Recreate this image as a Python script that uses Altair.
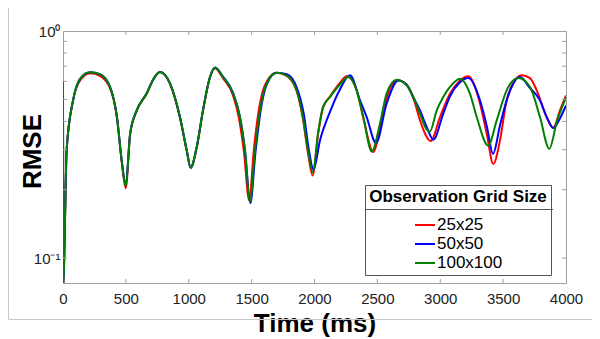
import altair as alt
import pandas as pd

SIZES = ["25x25", "50x50", "100x100"]
COLORS = ["#ff0000", "#0000ff", "#008000"]

T_RED = [0, 3, 16, 29, 80, 140, 215, 294, 374, 429, 467, 499, 534, 586, 666, 720, 771, 851, 930, 984, 1015,
         1063, 1113, 1169, 1209, 1272, 1352, 1400, 1440, 1480, 1520, 1560, 1620, 1699, 1779, 1858, 1908, 1948,
         1985, 2028, 2068, 2123, 2200, 2256, 2335, 2390, 2468, 2530, 2580, 2658, 2733, 2790, 2839, 2924, 2998,
         3077, 3150, 3223, 3316, 3369, 3422, 3475, 3528, 3579, 3648, 3714, 3767, 3846, 3899, 3952, 4000]
V_RED = [0.60, 0.075, 0.15, 0.30, 0.495, 0.61, 0.652, 0.635, 0.56, 0.415, 0.265, 0.203, 0.35, 0.445, 0.53,
         0.615, 0.66, 0.585, 0.415, 0.297, 0.25, 0.305, 0.445, 0.625, 0.685, 0.62, 0.52, 0.41, 0.29, 0.18,
         0.31, 0.46, 0.60, 0.655, 0.635, 0.545, 0.41, 0.29, 0.231, 0.35, 0.46, 0.515, 0.59, 0.632, 0.55,
         0.41, 0.293, 0.40, 0.52, 0.607, 0.58, 0.50, 0.404, 0.328, 0.418, 0.53, 0.60, 0.632, 0.48, 0.354,
         0.26, 0.33, 0.495, 0.588, 0.638, 0.62, 0.548, 0.418, 0.375, 0.447, 0.52]

T_BLUE = [0, 3, 16, 29, 80, 140, 215, 294, 374, 429, 467, 499, 534, 586, 666, 720, 771, 851, 930, 984, 1015,
          1063, 1113, 1169, 1209, 1272, 1352, 1407, 1447, 1490, 1530, 1570, 1620, 1699, 1779, 1858, 1915, 1955,
          1992, 2044, 2123, 2200, 2282, 2362, 2415, 2489, 2574, 2666, 2733, 2786, 2839, 2892, 2945, 3024,
          3077, 3150, 3223, 3316, 3369, 3420, 3475, 3528, 3634, 3714, 3793, 3846, 3899, 3950, 4000]
V_BLUE = [0.60, 0.075, 0.15, 0.30, 0.495, 0.62, 0.658, 0.645, 0.567, 0.418, 0.269, 0.21, 0.354, 0.447, 0.532,
          0.615, 0.66, 0.588, 0.418, 0.298, 0.25, 0.308, 0.447, 0.627, 0.69, 0.63, 0.535, 0.42, 0.30, 0.175,
          0.29, 0.44, 0.58, 0.655, 0.645, 0.565, 0.43, 0.30, 0.245, 0.33, 0.44, 0.55, 0.638, 0.495, 0.418,
          0.321, 0.48, 0.606, 0.58, 0.51, 0.447, 0.378, 0.332, 0.433, 0.515, 0.59, 0.621, 0.495, 0.384,
          0.288, 0.384, 0.495, 0.627, 0.56, 0.495, 0.418, 0.374, 0.41, 0.47]

T_GREEN = [0, 3, 16, 29, 80, 140, 215, 294, 374, 429, 467, 499, 534, 586, 666, 720, 771, 851, 930, 984, 1015,
           1063, 1113, 1169, 1209, 1272, 1352, 1407, 1447, 1487, 1527, 1567, 1620, 1699, 1779, 1858, 1908, 1948,
           1988, 2028, 2068, 2123, 2200, 2269, 2335, 2388, 2455, 2521, 2574, 2653, 2733, 2786, 2839, 2890,
           2918, 2972, 3024, 3077, 3157, 3236, 3290, 3382, 3449, 3528, 3621, 3714, 3793, 3867, 3928, 4000]
V_GREEN = [0.60, 0.075, 0.15, 0.30, 0.495, 0.62, 0.658, 0.645, 0.567, 0.418, 0.269, 0.207, 0.354, 0.447, 0.532,
           0.615, 0.66, 0.588, 0.418, 0.298, 0.25, 0.308, 0.447, 0.627, 0.69, 0.627, 0.532, 0.418, 0.298, 0.177,
           0.298, 0.447, 0.588, 0.655, 0.638, 0.548, 0.418, 0.298, 0.239, 0.354, 0.463, 0.512, 0.58, 0.627,
           0.548, 0.418, 0.295, 0.392, 0.532, 0.61, 0.577, 0.512, 0.433, 0.37, 0.361, 0.447, 0.512, 0.567,
           0.617, 0.530, 0.418, 0.313, 0.404, 0.548, 0.621, 0.567, 0.418, 0.303, 0.40, 0.51]

X_TICKS = [0, 500, 1000, 1500, 2000, 2500, 3000, 3500, 4000]
X_INNER_TICKS = [500, 1000, 1500, 2000, 2500, 3000, 3500]
Y_TICKS = [0.1, 0.2, 0.3, 0.4, 0.5, 0.6, 0.7, 0.8, 0.9]
Y_LABEL_VALUES = [0.1, 1]

W, H = 503, 252
AXIS_GRAY = "#a0a0a0"
FONT = "Liberation Sans"

frames = []
for name, ts, vs in [(SIZES[0], T_RED, V_RED), (SIZES[1], T_BLUE, V_BLUE), (SIZES[2], T_GREEN, V_GREEN)]:
    frames.append(pd.DataFrame({"t": ts, "v": vs, "size": name}))
df = pd.concat(frames, ignore_index=True)

xscale = alt.Scale(domain=[0, 4000], nice=False, zero=False)
yscale = alt.Scale(type="log", domain=[0.0777, 1], nice=False)

XAX = alt.Axis(
    values=X_TICKS, format="d", title="Time (ms)", domain=False, ticks=False, grid=False,
    labelFont=FONT, labelFontSize=15, labelColor="#222", labelPadding=8, labelFlush=False,
    titleFont=FONT, titleFontSize=26, titleFontWeight="bold", titleColor="#000",
    titleY=40, titleBaseline="middle")
YAX = alt.Axis(
    values=Y_LABEL_VALUES, labelExpr="datum.value >= 1 ? '10⁰' : '10⁻¹'",
    title="RMSE", domain=False, ticks=False, grid=False, labelFlush=False,
    labelFont=FONT, labelFontSize=15, labelColor="#222", labelPadding=3,
    titleFont=FONT, titleFontSize=26, titleFontWeight="bold", titleColor="#000",
    titleX=-31, titleY=120, titleAngle=270, titleAlign="center", titleBaseline="middle")

lines = alt.Chart(df).mark_line(strokeWidth=2, interpolate="monotone", clip=True).encode(
    x=alt.X("t:Q", scale=xscale, axis=XAX),
    y=alt.Y("v:Q", scale=yscale, axis=YAX),
    color=alt.Color("size:N", sort=SIZES, scale=alt.Scale(domain=SIZES, range=COLORS),
                    legend=alt.Legend(
                        title="Observation Grid Size", orient="none", legendX=302, legendY=154,
                        padding=4, strokeColor="#555", titleFont=FONT, titleFontSize=17,
                        titleFontWeight="bold", titleColor="#000", titlePadding=8, titleAnchor="middle",
                        labelFont=FONT, labelFontSize=17, labelColor="#000", labelOffset=1,
                        symbolType="stroke", symbolSize=400, symbolStrokeWidth=2,
                        symbolOffset=0, rowPadding=0)),
)

one = alt.Data(values=[{"k": 0}])

xt_bottom = alt.Chart(pd.DataFrame({"t": X_INNER_TICKS})).mark_rule(color=AXIS_GRAY).encode(
    x=alt.X("t:Q", scale=xscale, axis=XAX), y=alt.value(H), y2=alt.value(H - 4))
xt_top = alt.Chart(pd.DataFrame({"t": X_INNER_TICKS})).mark_rule(color=AXIS_GRAY).encode(
    x=alt.X("t:Q", scale=xscale, axis=XAX), y=alt.value(0), y2=alt.value(4))
yt_left = alt.Chart(pd.DataFrame({"v": Y_TICKS})).mark_rule(color=AXIS_GRAY).encode(
    y=alt.Y("v:Q", scale=yscale, axis=YAX), x=alt.value(0), x2=alt.value(4))
yt_right = alt.Chart(pd.DataFrame({"v": Y_TICKS})).mark_rule(color=AXIS_GRAY).encode(
    y=alt.Y("v:Q", scale=yscale, axis=YAX), x=alt.value(W), x2=alt.value(W - 4))

sep = alt.Chart(one).mark_rule(color="#555", strokeWidth=1).encode(
    x=alt.value(302), x2=alt.value(490), y=alt.value(178.5))

frame_left = alt.Chart(one).mark_rule(color="#c8c8c8", strokeWidth=1).encode(
    x=alt.value(-54.5), y=alt.value(-30), y2=alt.value(288.5))
frame_bottom = alt.Chart(one).mark_rule(color="#c8c8c8", strokeWidth=1).encode(
    x=alt.value(-54.5), x2=alt.value(545), y=alt.value(288.5))

chart = alt.layer(lines, xt_bottom, xt_top, yt_left, yt_right, sep, frame_left, frame_bottom).properties(
    width=W, height=H,
    background="white",
    autosize=alt.AutoSizeParams(type="none"),
    padding={"left": 55, "top": 23, "right": 26, "bottom": 56},
).configure_view(stroke=AXIS_GRAY, strokeWidth=1)

chart.save("out.html", embed_options={"renderer": "svg", "actions": False})
